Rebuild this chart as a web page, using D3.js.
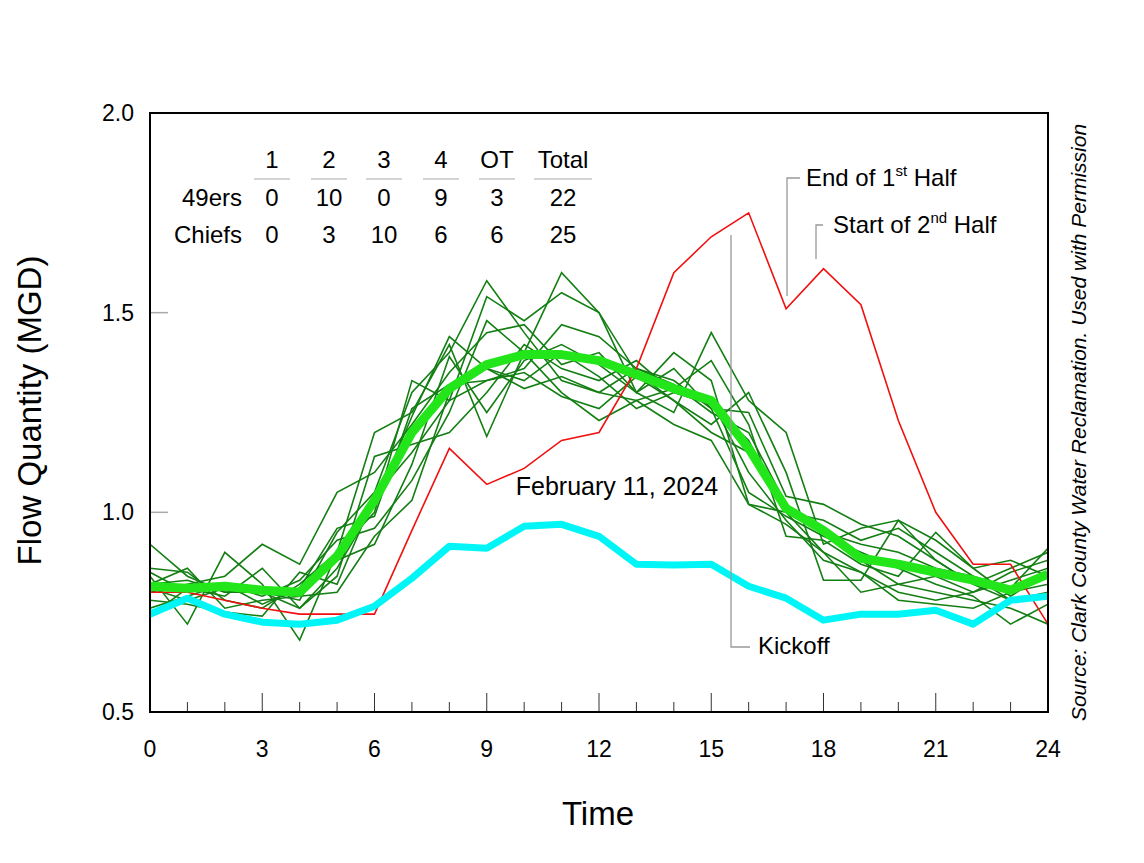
<!DOCTYPE html>
<html><head><meta charset="utf-8">
<script src="https://cdn.jsdelivr.net/npm/d3@7"></script>
<style>body{margin:0;background:#fff}text{font-family:"Liberation Sans",Arial,sans-serif;fill:#000}</style>
</head><body>
<svg width="1144" height="863"></svg>
<script>
var hours = d3.range(0, 25);
var redSeries = [.80,.80,.78,.76,.745,.745,.745,.955,1.16,1.07,1.11,1.18,1.20,1.36,1.60,1.69,1.75,1.51,1.61,1.52,1.23,1.00,.87,.87,.72];
var cyanSeries = [.745,.785,.745,.725,.72,.73,.765,.835,.915,.91,.965,.97,.94,.87,.868,.87,.815,.785,.73,.745,.745,.755,.72,.78,.79];
var avgSeries = [.815,.81,.815,.805,.80,.89,1.03,1.20,1.31,1.37,1.395,1.395,1.38,1.345,1.31,1.28,1.16,1.01,.955,.885,.87,.85,.83,.805,.845];
var pastDays = [
 [.92,.84,.80,.80,.78,.95,1.05,1.30,1.40,1.58,1.45,1.33,1.30,1.36,1.32,1.25,1.20,1.02,.95,.88,.82,.80,.78,.76,.72],
 [.86,.85,.78,.76,.82,.90,1.20,1.25,1.42,1.19,1.40,1.60,1.50,1.35,1.28,1.20,1.15,1.00,.90,.85,.80,.78,.80,.85,.88],
 [.84,.72,.90,.82,.68,.90,1.00,1.33,1.28,1.54,1.48,1.55,1.50,1.30,1.40,1.33,1.02,1.00,.98,.93,.96,.90,.84,.81,.91],
 [.80,.82,.84,.92,.87,1.05,1.10,1.22,1.35,1.45,1.47,1.37,1.40,1.30,1.25,1.45,1.28,1.20,.92,.96,.98,.88,.82,.86,.90],
 [.78,.77,.75,.74,.85,.82,1.04,1.15,1.28,1.33,1.35,1.29,1.26,1.34,1.28,1.22,1.30,1.10,.83,.83,.98,.93,.86,.79,.85],
 [.82,.83,.80,.81,.80,.88,.92,1.12,1.39,1.25,1.38,1.42,1.37,1.30,1.36,1.26,1.25,1.04,1.02,.97,.94,.88,.82,.78,.80],
 [.76,.79,.82,.79,.83,.93,.96,1.08,1.25,1.48,1.40,1.30,1.23,1.28,1.22,1.18,1.02,.97,.90,.80,.82,.84,.80,.83,.86],
 [.74,.81,.79,.86,.76,.84,1.14,1.17,1.20,1.30,1.42,1.36,1.33,1.38,1.30,1.28,1.10,.98,.88,.85,.78,.77,.76,.80,.82],
 [.85,.80,.82,.77,.81,.96,.99,1.26,1.32,1.33,1.36,1.47,1.44,1.36,1.33,1.26,1.05,.99,.94,.90,.86,.82,.79,.72,.77],
 [.82,.86,.76,.78,.79,.80,.94,1.03,1.30,1.36,1.31,1.34,1.30,1.28,1.31,1.38,1.22,.94,.93,.87,.84,.95,.86,.88,.84],
 [.81,.78,.81,.80,.76,.86,1.02,1.24,1.44,1.36,1.33,1.40,1.34,1.26,1.30,1.27,1.18,1.00,.95,.92,.90,.86,.84,.78,.79]
];
var quarterHeads = ['1','2','3','4','OT','Total'];
var ninersScores = ['0','10','0','9','3','22'];
var chiefsScores = ['0','3','10','6','6','25'];
var xTickLabels = [0,3,6,9,12,15,18,21,24];
var yTickLabels = [0.5,1.0,1.5,2.0];

var svg = d3.select('svg');
var pad = {l: 150, r: 96, t: 113, b: 151};
var W = 1144 - pad.l - pad.r, H = 863 - pad.t - pad.b;
var x = d3.scaleLinear().domain([0, 24]).range([0, W]);
var y = d3.scaleLinear().domain([0.5, 2.0]).range([H, 0]);
var g = svg.append('g').attr('transform', 'translate(' + [pad.l, pad.t] + ')');

g.append('defs').append('clipPath').attr('id', 'clip').append('rect').attr('width', W).attr('height', H);

// inner ticks, longer every 3 hours
g.selectAll('.xt').data(d3.range(1, 24)).enter().append('line')
 .attr('x1', d => x(d)).attr('x2', d => x(d)).attr('y1', H).attr('y2', d => d % 3 ? H - 10 : H - 19)
 .attr('stroke', '#333').attr('stroke-width', 1);
g.selectAll('.yt').data([1.0, 1.5]).enter().append('line')
 .attr('x1', 0).attr('x2', 18).attr('y1', d => y(d)).attr('y2', d => y(d))
 .attr('stroke', '#aaa').attr('stroke-width', 1.5);

var line = d3.line().x((d, i) => x(hours[i])).y(d => y(d));
var lines = g.append('g').attr('clip-path', 'url(#clip)');
pastDays.forEach(function(s) {
 lines.append('path').datum(s).attr('d', line).attr('fill', 'none').attr('stroke', '#137f13').attr('stroke-width', 1.6);
});
lines.append('path').datum(redSeries).attr('d', line).attr('fill', 'none').attr('stroke', '#f01010').attr('stroke-width', 1.6);
lines.append('path').datum(avgSeries).attr('d', line).attr('fill', 'none').attr('stroke', '#22e61a').attr('stroke-width', 9).attr('stroke-linejoin', 'round');
lines.append('path').datum(cyanSeries).attr('d', line).attr('fill', 'none').attr('stroke', '#00f6f6').attr('stroke-width', 7).attr('stroke-linejoin', 'round');

g.append('rect').attr('width', W).attr('height', H).attr('fill', 'none').attr('stroke', '#000').attr('stroke-width', 2);

g.selectAll('.xl').data(xTickLabels).enter().append('text')
 .attr('x', d => x(d)).attr('y', H + 45).attr('text-anchor', 'middle').attr('font-size', 23).text(d => d);
g.selectAll('.yl').data(yTickLabels).enter().append('text')
 .attr('x', -16).attr('y', d => y(d) + 8).attr('text-anchor', 'end').attr('font-size', 23).text(d => d.toFixed(1));

svg.append('text').attr('x', 598).attr('y', 825).attr('text-anchor', 'middle').attr('font-size', 33).text('Time');
svg.append('text').attr('transform', 'translate(41,' + (pad.t + H / 2 - 2) + ') rotate(-90)')
 .attr('text-anchor', 'middle').attr('font-size', 33).text('Flow Quantity (MGD)');
svg.append('text').attr('transform', 'translate(1086,' + (pad.t + H / 2 + 10) + ') rotate(-90)')
 .attr('text-anchor', 'middle').attr('font-size', 21).attr('font-style', 'italic')
 .text('Source:  Clark County Water Reclamation.  Used with Permission');

// score table
var colX = [272, 329, 384, 441, 497, 563];
svg.selectAll('.qh').data(quarterHeads).enter().append('text')
 .attr('x', (d, i) => colX[i]).attr('y', 168).attr('text-anchor', 'middle').attr('font-size', 24).text(d => d);
svg.selectAll('.qu').data(quarterHeads).enter().append('line')
 .attr('x1', (d, i) => colX[i] - (i == 5 ? 29 : 18)).attr('x2', (d, i) => colX[i] + (i == 5 ? 29 : 18))
 .attr('y1', 179).attr('y2', 179).attr('stroke', '#aaa').attr('stroke-width', 1.2);
[['49ers', ninersScores, 206], ['Chiefs', chiefsScores, 243]].forEach(function(r) {
 svg.append('text').attr('x', 242).attr('y', r[2]).attr('text-anchor', 'end').attr('font-size', 24).text(r[0]);
 svg.selectAll(null).data(r[1]).enter().append('text')
  .attr('x', (d, i) => colX[i]).attr('y', r[2]).attr('text-anchor', 'middle').attr('font-size', 24).text(d => d);
});

// annotations
var ann = svg.append('g').attr('stroke', '#999').attr('fill', 'none').attr('stroke-width', 1.3);
ann.append('path').attr('d', 'M731,235V647H750');
ann.append('path').attr('d', 'M787,296V178H800');
ann.append('path').attr('d', 'M816,259V225H823');
svg.append('text').attr('x', 758).attr('y', 654).attr('font-size', 24).text('Kickoff');
svg.append('text').attr('x', 617).attr('y', 495).attr('text-anchor', 'middle').attr('font-size', 25).text('February 11, 2024');
var t1 = svg.append('text').attr('x', 806).attr('y', 186).attr('font-size', 24);
t1.append('tspan').text('End of 1');
t1.append('tspan').attr('font-size', 15).attr('dy', -10).text('st');
t1.append('tspan').attr('dy', 10).text(' Half');
var t2 = svg.append('text').attr('x', 833).attr('y', 233).attr('font-size', 24);
t2.append('tspan').text('Start of 2');
t2.append('tspan').attr('font-size', 15).attr('dy', -10).text('nd');
t2.append('tspan').attr('dy', 10).text(' Half');
</script>
</body></html>
